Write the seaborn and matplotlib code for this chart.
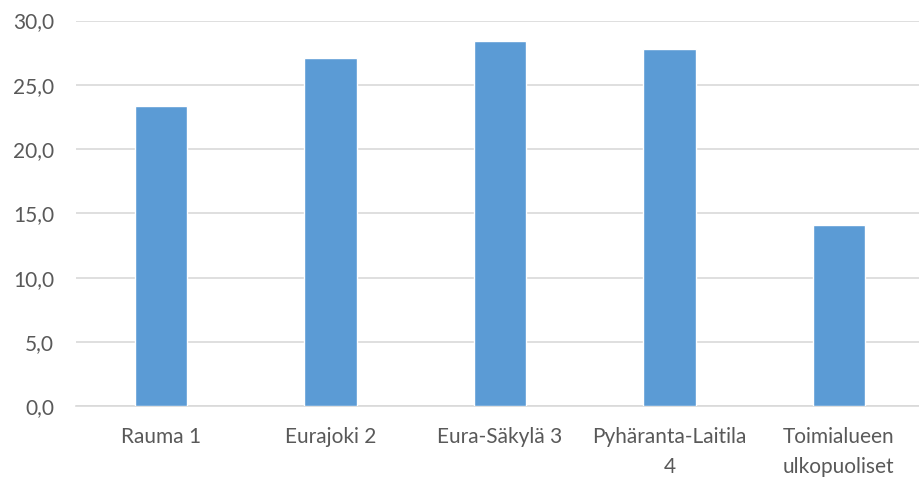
import pandas as pd
import matplotlib
matplotlib.use('Agg')
import matplotlib.pyplot as plt
import seaborn as sns

# kategoriat ja arvot
categories = ['Rauma 1', 'Eurajoki 2', 'Eura-Säkylä 3', 'Pyhäranta-Laitila\n4', 'Toimialueen\nulkopuoliset']
values = [23.35, 27.1, 28.4, 27.8, 14.1]
yticks = [0, 5, 10, 15, 20, 25, 30]

sns.set_theme(style='white')
plt.rcParams['font.family'] = ['Lato', 'DejaVu Sans']

df = pd.DataFrame({'alue': categories, 'arvo': values})

fig = plt.figure(figsize=(9.19, 4.78), dpi=100)
ax = fig.add_axes([0.083, 0.15, 0.922, 0.807])
sns.barplot(data=df, x='alue', y='arvo', color='#5B9BD5', saturation=1, width=0.31, ax=ax, zorder=3)

ax.set_ylim(0, 30)
ax.set_yticks(yticks)
ax.set_yticklabels([f'{t:.1f}'.replace('.', ',') for t in yticks])
ax.set_xlim(-0.5, 4.5)
ax.grid(axis='y', color='#D9D9D9', linewidth=1.2, zorder=0)
for s in ['top', 'right', 'left']:
    ax.spines[s].set_visible(False)
ax.spines['bottom'].set_color('#D9D9D9')
ax.spines['bottom'].set_linewidth(1.2)
ax.tick_params(axis='both', length=0, colors='#595959', labelsize=15)
ax.tick_params(axis='y', pad=16)
ax.tick_params(axis='x', pad=15)
for lbl in ax.get_xticklabels():
    lbl.set_linespacing(1.6)
ax.set_xlabel('')
ax.set_ylabel('')

plt.savefig('out.png', dpi=100)
